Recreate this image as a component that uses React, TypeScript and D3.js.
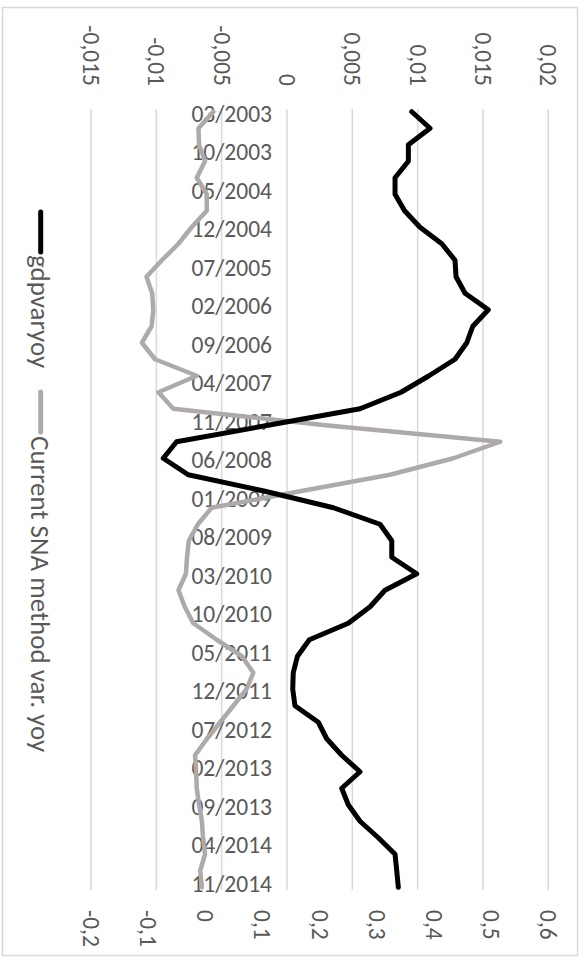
import React from 'react';
import * as d3 from 'd3';

const categoryStart = '03/2003';
const categoryEnd = '12/2014';

const tickLabels = [
  '03/2003', '10/2003', '05/2004', '12/2004', '07/2005', '02/2006', '09/2006',
  '04/2007', '11/2007', '06/2008', '01/2009', '08/2009', '03/2010', '10/2010',
  '05/2011', '12/2011', '07/2012', '02/2013', '09/2013', '04/2014', '11/2014',
];

const quarters = [
  '03/2003', '06/2003', '09/2003', '12/2003', '03/2004', '06/2004', '09/2004', '12/2004',
  '03/2005', '06/2005', '09/2005', '12/2005', '03/2006', '06/2006', '09/2006', '12/2006',
  '03/2007', '06/2007', '09/2007', '12/2007', '03/2008', '06/2008', '09/2008', '12/2008',
  '03/2009', '06/2009', '09/2009', '12/2009', '03/2010', '06/2010', '09/2010', '12/2010',
  '03/2011', '06/2011', '09/2011', '12/2011', '03/2012', '06/2012', '09/2012', '12/2012',
  '03/2013', '06/2013', '09/2013', '12/2013', '03/2014', '06/2014', '09/2014', '12/2014',
];

// primary axis
const gdpvaryoy = [
  0.00955, 0.01095, 0.00929, 0.00929, 0.00827, 0.00827, 0.0090, 0.01018,
  0.01185, 0.01286, 0.01294, 0.01363, 0.01541, 0.01422, 0.01376, 0.01286,
  0.01087, 0.00873, 0.00559, -0.00145, -0.00845, -0.00947, -0.00756, -0.00168,
  0.00355, 0.00712, 0.00802, 0.00802, 0.00993, 0.0075, 0.00636, 0.00469,
  0.00171, 0.0008, 0.00048, 0.00044, 0.00061, 0.0024, 0.00304, 0.00419,
  0.00559, 0.00419, 0.00469, 0.00559, 0.00699, 0.00827, 0.0084, 0.00852,
];

// secondary axis
const snaVarYoy = [
  0.014, -0.012, -0.011, -0.0005, -0.015, 0.0025, 0.0025, -0.024,
  -0.047, -0.076, -0.103, -0.093, -0.091, -0.094, -0.111, -0.088,
  -0.015, -0.082, -0.056, 0.21, 0.516, 0.434, 0.323, 0.166,
  0.011, -0.013, -0.029, -0.032, -0.034, -0.047, -0.036, -0.021,
  0.02, 0.064, 0.084, 0.072, 0.049, 0.026, 0.003, -0.018,
  -0.016, -0.015, -0.011, -0.006, -0.004, -0.0005, -0.009, -0.006,
];

const primaryTicks = [-0.015, -0.01, -0.005, 0, 0.005, 0.01, 0.015, 0.02];
const secondaryTicks = [-0.2, -0.1, 0, 0.1, 0.2, 0.3, 0.4, 0.5, 0.6];

const seriesNames = ['gdpvaryoy', 'Current SNA method var. yoy'];
const seriesColors = ['#000000', '#AEAAAA'];

function monthIndex(label: string): number {
  const [m, y] = label.split('/').map(Number);
  const [m0, y0] = categoryStart.split('/').map(Number);
  return (y - y0) * 12 + (m - m0);
}

const fmt = (v: number) => String(+v.toFixed(4)).replace('.', ',');

const FONT = "Carlito, Calibri, Lato, 'Open Sans', sans-serif";
const TEXT = '#595959';

export default function App() {
  const W = 586;
  const H = 962;
  const plot = { left: 91, right: 548.3, top: 109, bottom: 890 };
  const nCats = monthIndex(categoryEnd) + 1;

  const xPrim = d3.scaleLinear().domain([-0.015, 0.02]).range([plot.left, plot.right]);
  const xSec = d3.scaleLinear().domain([-0.2, 0.6]).range([plot.left, plot.right]);
  const yCat = d3.scaleLinear().domain([0, nCats]).range([plot.top, plot.bottom]);
  const yOf = (label: string) => yCat(monthIndex(label) + 0.5);

  const lineP = d3.line<number>()
    .x((d) => xPrim(d))
    .y((_, i) => yOf(quarters[i]));
  const lineS = d3.line<number>()
    .x((d) => xSec(d))
    .y((_, i) => yOf(quarters[i]));

  const fsAxis = 23.5;
  const fsCat = 23.5;
  const fsLeg = 27;

  return (
    <svg width={W} height={H} style={{ position: 'absolute', left: 0, top: 0, background: '#fff' }}
      fontFamily={FONT}>
      <rect x={0} y={0} width={W} height={H} fill="#fff" />
      <rect x={2.5} y={7.5} width={575} height={948} fill="#fff" stroke="#D9D9D9" strokeWidth={1.5} />
      {primaryTicks.map((t) => (
        <line key={'g' + t} x1={xPrim(t)} x2={xPrim(t)} y1={plot.top} y2={plot.bottom}
          stroke="#D9D9D9" strokeWidth={1.5} />
      ))}
      {primaryTicks.map((t) => (
        <text key={'p' + t} transform={`translate(${xPrim(t)},86) rotate(90)`}
          textAnchor="end" dominantBaseline="central" fontSize={fsAxis} fill={TEXT}>{fmt(t)}</text>
      ))}
      {secondaryTicks.map((t) => (
        <text key={'s' + t} transform={`translate(${xSec(t)},910) rotate(90)`}
          textAnchor="start" dominantBaseline="central" fontSize={fsAxis} fill={TEXT}>{fmt(t)}</text>
      ))}
      {tickLabels.map((l) => (
        <text key={l} x={272} y={yOf(l) + 2} textAnchor="end" dominantBaseline="central"
          fontSize={fsCat} fill={TEXT}>{l}</text>
      ))}
      <path d={lineS(snaVarYoy) || ''} fill="none" stroke={seriesColors[1]} strokeWidth={4.5}
        strokeLinejoin="round" strokeLinecap="round" />
      <path d={lineP(gdpvaryoy) || ''} fill="none" stroke={seriesColors[0]} strokeWidth={5}
        strokeLinejoin="round" strokeLinecap="round" />
      {/* legend */}
      <line x1={40.7} x2={40.7} y1={212} y2={252} stroke={seriesColors[0]} strokeWidth={5} strokeLinecap="round" />
      <text transform="translate(40.7,255) rotate(90)" textAnchor="start" dominantBaseline="central"
        fontSize={fsLeg} fill={TEXT}>{seriesNames[0]}</text>
      <line x1={40.7} x2={40.7} y1={392} y2={432} stroke={seriesColors[1]} strokeWidth={5} strokeLinecap="round" />
      <text transform="translate(40.7,436) rotate(90)" textAnchor="start" dominantBaseline="central"
        fontSize={fsLeg} fill={TEXT}>{seriesNames[1]}</text>
    </svg>
  );
}
